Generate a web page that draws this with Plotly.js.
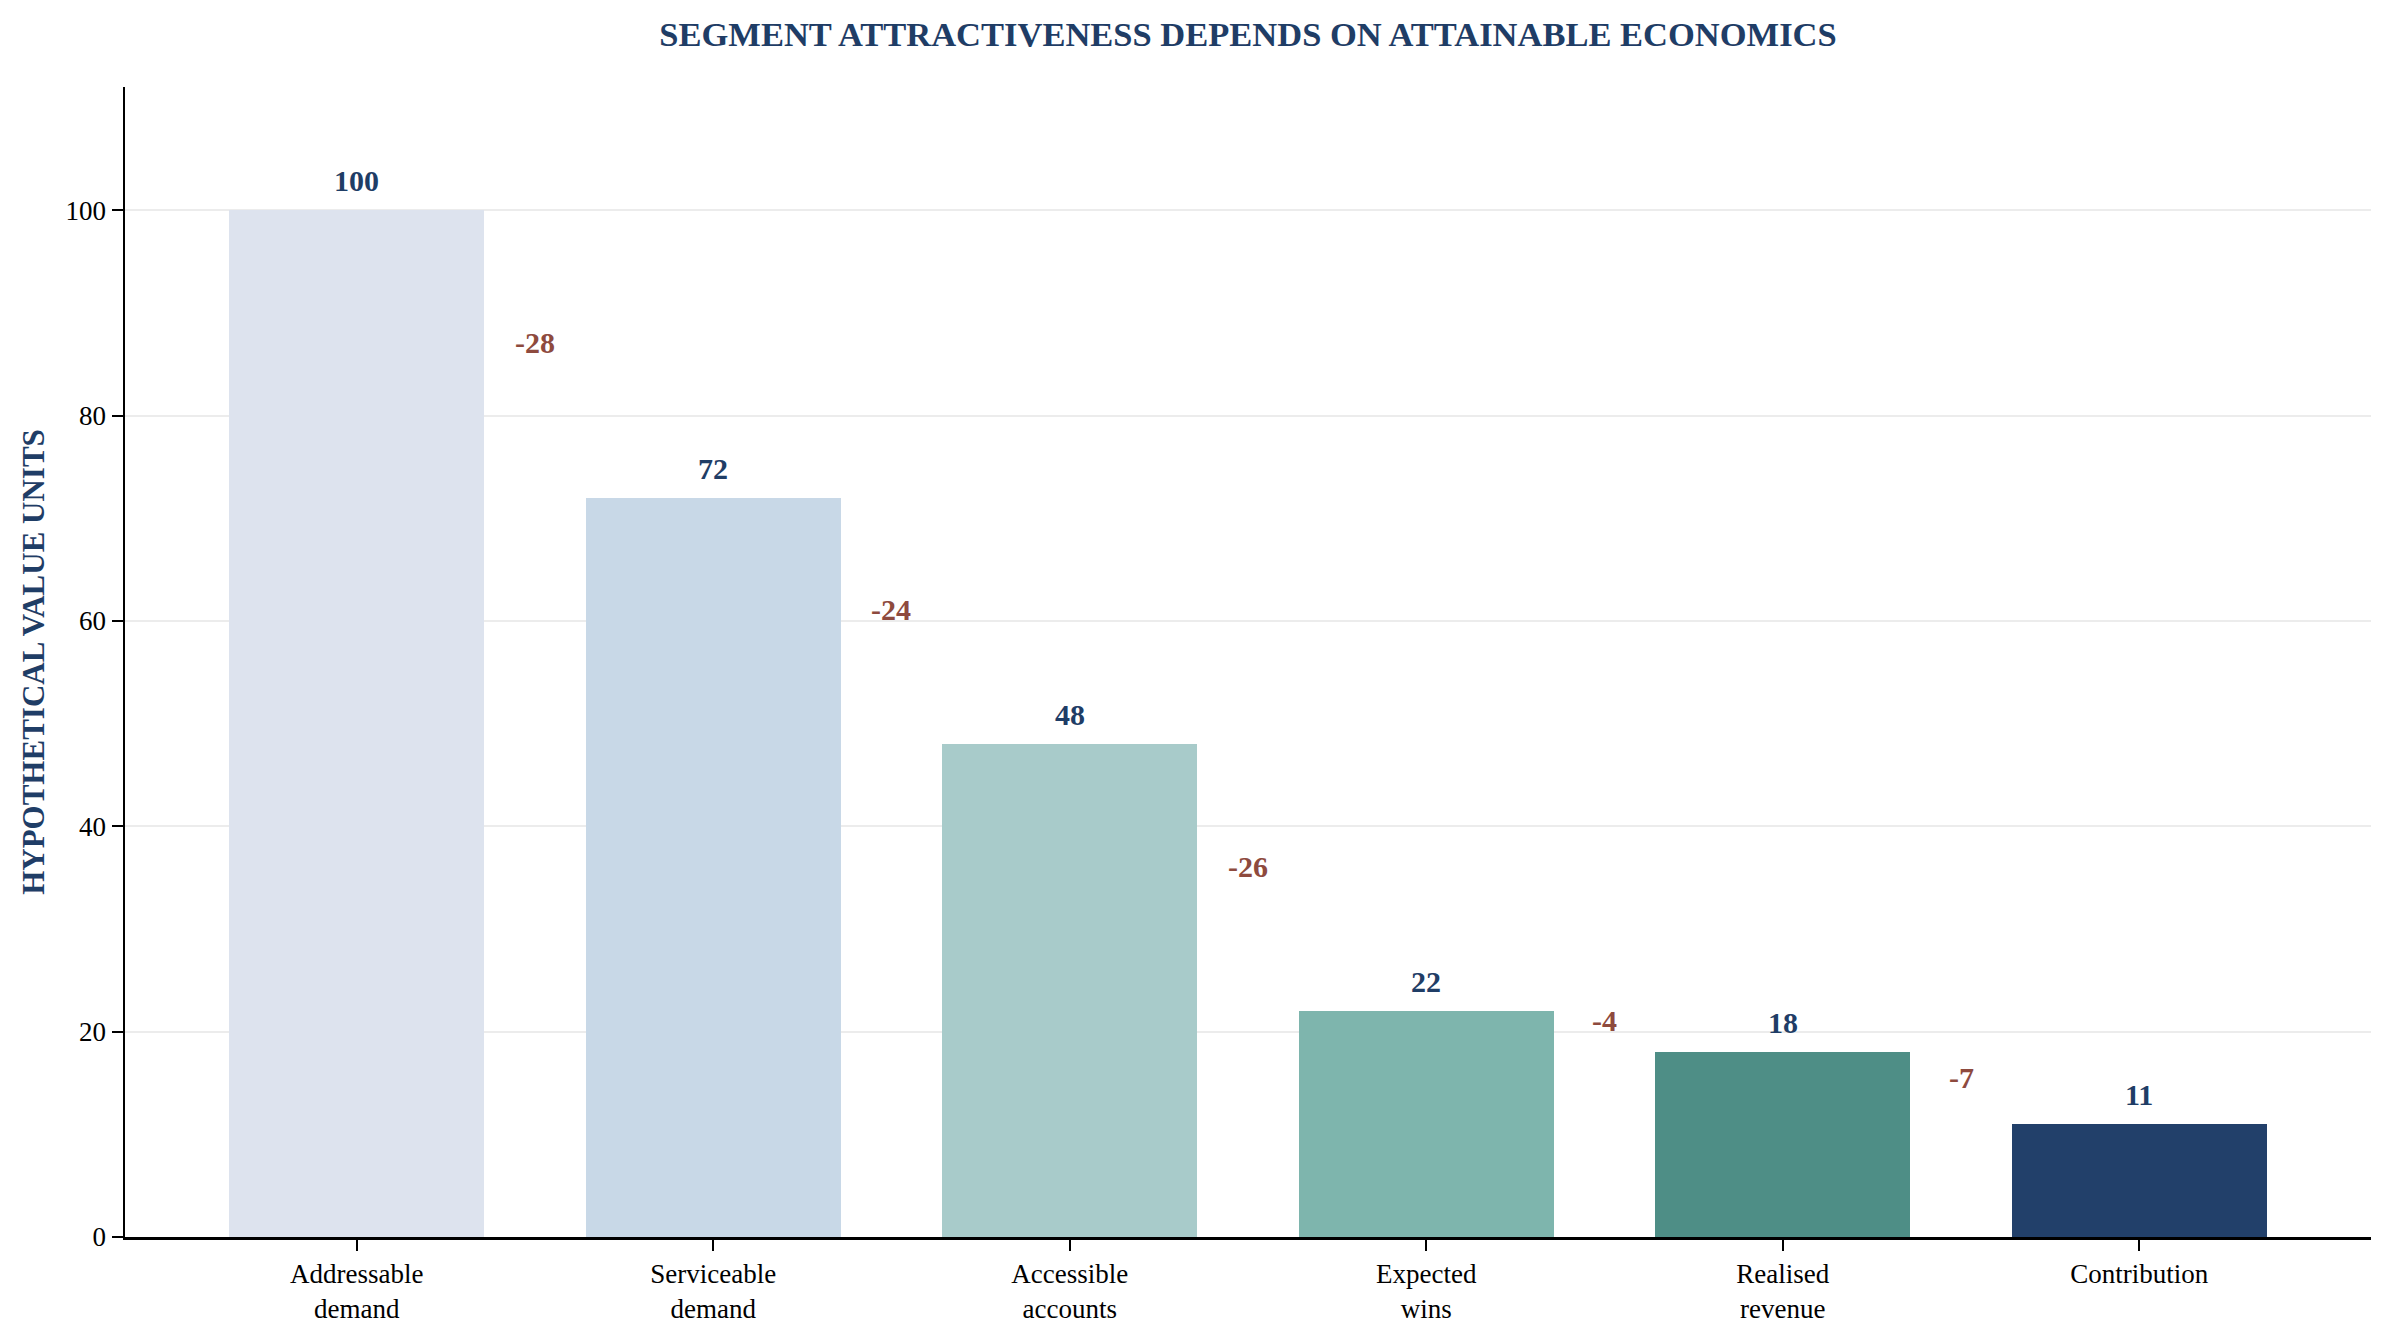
<!DOCTYPE html>
<html>
<head>
<meta charset="utf-8">
<script src="https://cdn.plot.ly/plotly-3.0.1.min.js"></script>
<style>
  html, body { margin: 0; padding: 0; background: #ffffff; }
  #chart { width: 2392px; height: 1342px; }
</style>
</head>
<body>
<div id="chart"></div>
<script>
// Funnel from addressable demand down to contribution
const stages = ['Addressable<br>demand', 'Serviceable<br>demand', 'Accessible<br>accounts', 'Expected<br>wins', 'Realised<br>revenue', 'Contribution'];
const values = [100, 72, 48, 22, 18, 11];
const barColors = ['#dde3ee', '#c8d8e7', '#a8cbca', '#7eb5ad', '#4e8e86', '#22406a'];
const yTicks = [0, 20, 40, 60, 80, 100];

const NAVY = '#1f3d66';
const RUST = '#8e4a3e';
const SERIF = '"Liberation Serif", "Times New Roman", serif';

function drawChart() {
    if (typeof Plotly === 'undefined') return;

    const xs = stages.map((s, i) => i);

    const trace = {
        x: xs,
        y: values,
        type: 'bar',
        width: 0.715,
        marker: { color: barColors, line: { width: 0 } },
        hoverinfo: 'skip'
    };

    const annotations = [];

    // value on top of each bar
    values.forEach((v, i) => {
        annotations.push({
            x: i, y: v, xref: 'x', yref: 'y',
            text: String(v),
            showarrow: false,
            yanchor: 'bottom',
            yshift: 11,
            font: { family: SERIF, size: 30, color: NAVY, weight: 'bold' }
        });
    });

    // drop between consecutive stages
    for (let i = 0; i < values.length - 1; i++) {
        const drop = values[i + 1] - values[i];
        annotations.push({
            x: i + 0.5, y: (values[i] + values[i + 1]) / 2, xref: 'x', yref: 'y',
            text: String(drop),
            showarrow: false,
            yanchor: 'middle',
            yshift: 11,
            font: { family: SERIF, size: 30, color: RUST, weight: 'bold' }
        });
    }

    const layout = {
        width: 2392,
        height: 1342,
        paper_bgcolor: '#ffffff',
        plot_bgcolor: '#ffffff',
        margin: { l: 125, r: 21, t: 87, b: 105 },
        showlegend: false,
        bargap: 0,
        font: { family: SERIF, size: 27, color: '#000000' },
        title: {
            text: '<b>SEGMENT ATTRACTIVENESS DEPENDS ON ATTAINABLE ECONOMICS</b>',
            font: { family: SERIF, size: 34.5, color: NAVY },
            xref: 'paper', x: 0.5, xanchor: 'center',
            y: 1 - 34 / 1342, yanchor: 'middle', yref: 'container'
        },
        xaxis: {
            range: [-0.65, 5.65],
            tickvals: xs,
            ticktext: stages,
            showgrid: false,
            zeroline: false,
            showline: true,
            linecolor: '#000000',
            linewidth: 2.5,
            ticks: 'outside',
            ticklen: 11,
            tickwidth: 2,
            tickcolor: '#000000',
            tickfont: { family: SERIF, size: 27, color: '#000000' }
        },
        yaxis: {
            range: [0, 112],
            tickvals: yTicks,
            showgrid: true,
            gridcolor: '#ececec',
            gridwidth: 2,
            zeroline: false,
            showline: true,
            linecolor: '#000000',
            linewidth: 2.5,
            ticks: 'outside',
            ticklen: 11,
            tickwidth: 2,
            tickcolor: '#000000',
            tickfont: { family: SERIF, size: 27, color: '#000000' },
            title: {
                text: '<b>HYPOTHETICAL VALUE UNITS</b>',
                font: { family: SERIF, size: 31, color: NAVY },
                standoff: 12
            }
        },
        annotations: annotations
    };

    try {
        Plotly.newPlot('chart', [trace], layout, { displayModeBar: false, staticPlot: true });
    } catch (error) {
        console.log('Error creating funnel chart:', error);
    }
}

drawChart();
</script>
</body>
</html>
